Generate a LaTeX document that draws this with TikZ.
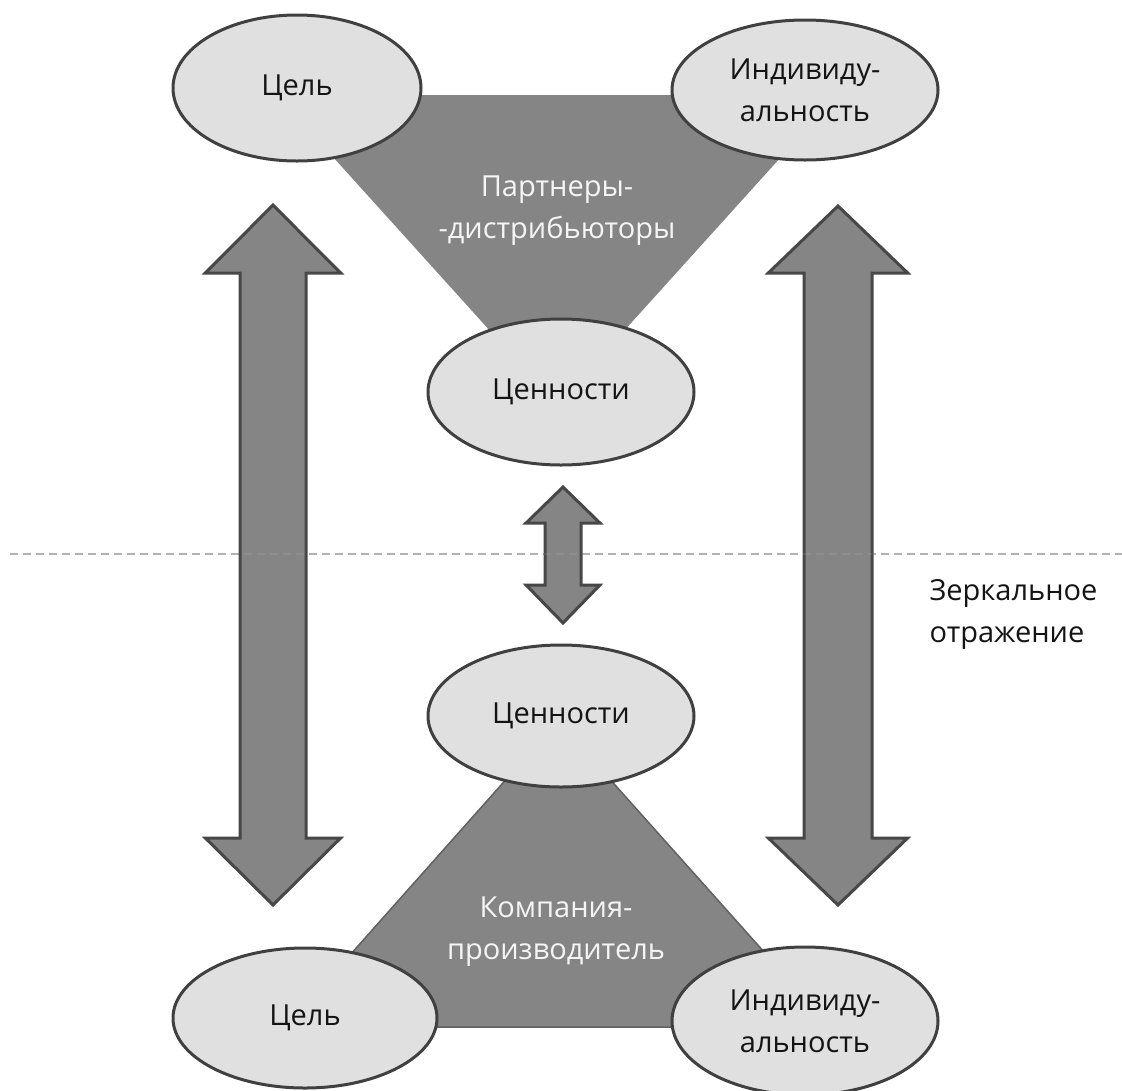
\documentclass[tikz,border=0pt]{standalone}
\usepackage{fontspec}
\setmainfont{Open Sans}
\usetikzlibrary{shapes.geometric}
% vertical double arrow: cx, top tip, top head base, bottom head base, bottom tip, shaft half-width
\newcommand\vdblarrow[6]{%
  \draw[bigarrow] (#1,#2) -- (#1+#6*2.05,#3) -- (#1+#6,#3) -- (#1+#6,#4) -- (#1+#6*2.05,#4)
    -- (#1,#5) -- (#1-#6*2.05,#4) -- (#1-#6,#4) -- (#1-#6,#3) -- (#1-#6*2.05,#3) -- cycle;}
\begin{document}
\begin{tikzpicture}[x=1pt,y=-1pt,
  oval/.style={ellipse, draw=black!75, line width=3pt, fill=black!12,
    inner sep=0pt, text=black!92, align=center},
  wedge/.style={fill=black!48},
  wedgeline/.style={draw=black!62, line width=1.5pt},
  wedgetext/.style={text=black!4, align=center},
  bigarrow/.style={fill=black!48, draw=black!72, line width=3pt, line join=miter},
  mirror/.style={draw=black!33, line width=2pt, dash pattern=on 8pt off 5pt},
  every node/.style={font=\fontsize{29}{42}\selectfont}]
\useasboundingbox (0,0) rectangle (1122,1090);

% upper and lower wedges
\coordinate (ua) at (277,95);  \coordinate (ub) at (837,95);  \coordinate (uc) at (557,405);
\coordinate (la) at (286,1027); \coordinate (lb) at (831,1027); \coordinate (lc) at (558,721);
\fill[wedge] (ua) -- (ub) -- (uc) -- cycle;
\path[wedge, wedgeline] (la) -- (lb) -- (lc) -- cycle;

% mirror line
\draw[mirror] (10,554) -- (1122,554);

% double arrows
\vdblarrow{273}{205}{273}{838}{905}{33}
\vdblarrow{838}{206}{273}{838}{905}{34}
\vdblarrow{563}{487}{523}{585}{623}{18}

% faint trace of the mirror line over the arrows
\draw[mirror, draw=white, opacity=0.08] (10,554) -- (1122,554);

% ovals
\node[oval, minimum width=248pt, minimum height=146pt] (goalU) at (297,88) {Цель};
\node[oval, minimum width=266pt, minimum height=140pt] (indU) at (805,90) {Индивиду-\\альность};
\node[oval, minimum width=266pt, minimum height=146pt] (valU) at (561,392) {Ценности};
\node[oval, minimum width=266pt, minimum height=142pt] (valL) at (561,716) {Ценности};
\node[oval, minimum width=264pt, minimum height=140pt] (goalL) at (305,1018) {Цель};
\node[oval, minimum width=266pt, minimum height=148pt] (indL) at (805,1021) {Индивиду-\\альность};

% wedge captions
\node[wedgetext] (partners) at (557,211) {Партнеры-\\-дистрибьюторы};
\node[wedgetext] (maker) at (556,932) {Компания-\\производитель};

% side caption
\node[align=left, anchor=west, text=black!92] (mirrortext) at (926,614) {Зеркальное\\отражение};
\end{tikzpicture}
\end{document}
